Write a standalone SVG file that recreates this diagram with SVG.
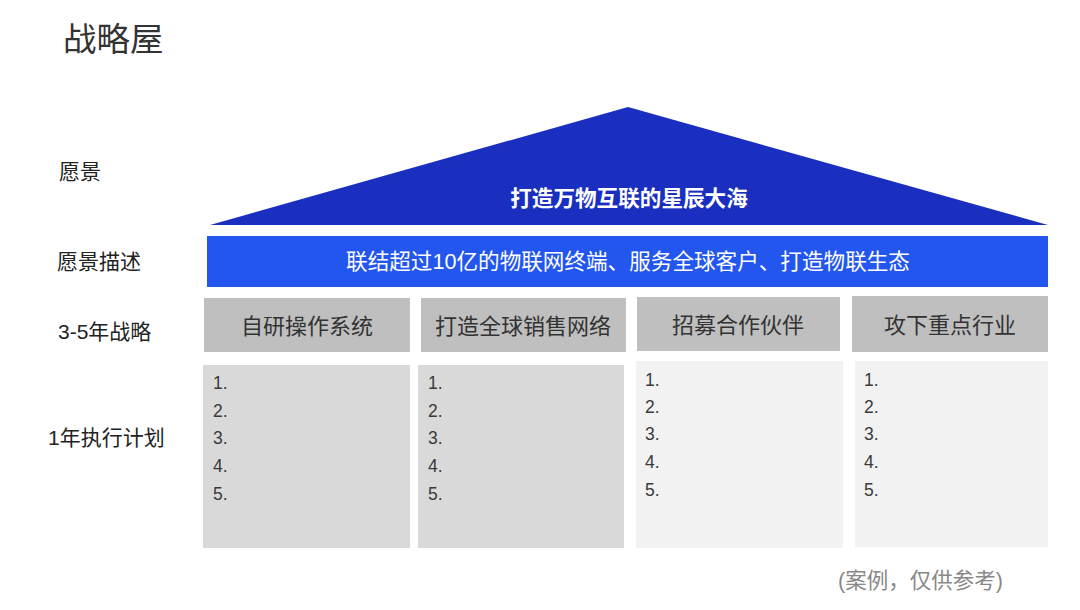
<svg xmlns="http://www.w3.org/2000/svg" width="1080" height="610" viewBox="0 0 1080 610">
<style>
text{font-family:"Liberation Sans","Noto Sans CJK SC",sans-serif}
.lbl{font-size:21px;fill:#222}
.hd{fill:#bfbfbf}
.hdt{font-size:22px;fill:#333;text-anchor:middle}
.li{font-size:17.5px;fill:#3a3a3a}
.w{fill:#fff;font-size:21.6px;text-anchor:middle;font-weight:bold}
</style>
<rect width="1080" height="610" fill="#fff"/>
<text x="63" y="51" font-size="33.5" fill="#333">战略屋</text>
<g id="labels">
<text class="lbl" x="59" y="179">愿景</text>
<text class="lbl" x="57" y="269">愿景描述</text>
<text class="lbl" x="58" y="339">3-5年战略</text>
<text class="lbl" x="48" y="445">1年执行计划</text>
</g>
<g id="vision">
<polygon points="628,107 1048,225 210,225" fill="#1a2fbf"/>
<text class="w" x="629" y="206">打造万物互联的星辰大海</text>
</g>
<g id="vision-desc">
<rect x="207" y="236" width="841" height="51" fill="#2356ee"/>
<text class="w" x="628" y="269" style="font-weight:normal">联结超过10亿的物联网终端、服务全球客户、打造物联生态</text>
</g>
<g id="s1"><rect class="hd" x="204" y="298" width="206" height="54"/><text class="hdt" x="307" y="334">自研操作系统</text></g>
<g id="s2"><rect class="hd" x="421" y="298" width="205" height="54"/><text class="hdt" x="523" y="334">打造全球销售网络</text></g>
<g id="s3"><rect class="hd" x="637" y="297" width="203" height="54"/><text class="hdt" x="738" y="333">招募合作伙伴</text></g>
<g id="s4"><rect class="hd" x="852" y="296" width="196" height="56"/><text class="hdt" x="950" y="333">攻下重点行业</text></g>
<g id="p1"><rect x="203" y="365" width="207" height="183" fill="#d9d9d9"/>
<text class="li" x="213" y="389">1.</text><text class="li" x="213" y="417">2.</text><text class="li" x="213" y="444">3.</text><text class="li" x="213" y="472">4.</text><text class="li" x="213" y="500">5.</text></g>
<g id="p2"><rect x="418" y="365" width="206" height="183" fill="#d9d9d9"/>
<text class="li" x="428" y="389">1.</text><text class="li" x="428" y="417">2.</text><text class="li" x="428" y="444">3.</text><text class="li" x="428" y="472">4.</text><text class="li" x="428" y="500">5.</text></g>
<g id="p3"><rect x="636" y="361" width="207" height="187" fill="#f2f2f2"/>
<text class="li" x="645" y="386">1.</text><text class="li" x="645" y="413">2.</text><text class="li" x="645" y="440">3.</text><text class="li" x="645" y="468">4.</text><text class="li" x="645" y="496">5.</text></g>
<g id="p4"><rect x="855" y="361" width="193" height="186" fill="#f2f2f2"/>
<text class="li" x="864" y="386">1.</text><text class="li" x="864" y="413">2.</text><text class="li" x="864" y="440">3.</text><text class="li" x="864" y="468">4.</text><text class="li" x="864" y="496">5.</text></g>
<g id="connectors"/>
<text x="838" y="588" font-size="21.5" fill="#888">(案例，仅供参考)</text>
</svg>
